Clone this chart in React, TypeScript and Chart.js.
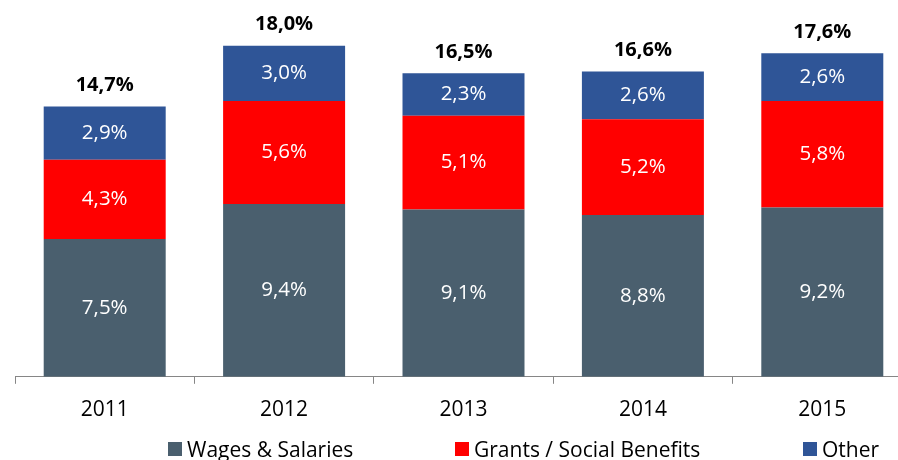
import React, { useEffect, useRef } from "react";
import { Chart, registerables } from "chart.js";

Chart.register(...registerables);

const categories = ["2011", "2012", "2013", "2014", "2015"];
const wages = [7.5, 9.4, 9.1, 8.8, 9.2];
const grants = [4.3, 5.6, 5.1, 5.2, 5.8];
const other = [2.9, 3.0, 2.3, 2.6, 2.6];
const totals = [14.7, 18.0, 16.5, 16.6, 17.6];
const seriesNames = ["Wages & Salaries", "Grants / Social Benefits", "Other"];
const seriesColors = ["#4A5F6E", "#FF0000", "#2F5597"];

const FONT = "'Open Sans', 'Noto Sans', sans-serif";
const fmt = (v: number) => v.toFixed(1).replace(".", ",") + "%";

const labelPlugin = {
  id: "labels",
  afterDatasetsDraw(chart: any) {
    const ctx = chart.ctx;
    ctx.save();
    ctx.textAlign = "center";
    ctx.textBaseline = "middle";
    chart.data.datasets.forEach((ds: any, di: number) => {
      const meta = chart.getDatasetMeta(di);
      meta.data.forEach((bar: any, i: number) => {
        const cy = (bar.y + bar.base) / 2;
        ctx.fillStyle = "#FFFFFF";
        ctx.font = `20.5px ${FONT}`;
        ctx.fillText(fmt(ds.data[i]), bar.x, cy);
      });
    });
    const last = chart.getDatasetMeta(chart.data.datasets.length - 1);
    last.data.forEach((bar: any, i: number) => {
      ctx.fillStyle = "#000000";
      ctx.font = `bold 20px ${FONT}`;
      ctx.fillText(fmt(totals[i]), bar.x, bar.y - 21);
    });
    ctx.restore();
  },
};

export default function App() {
  const ref = useRef<HTMLCanvasElement>(null);
  useEffect(() => {
    if (!ref.current) return;
    const chart = new Chart(ref.current, {
      type: "bar",
      data: {
        labels: categories,
        datasets: [wages, grants, other].map((d, i) => ({
          label: seriesNames[i],
          data: d,
          backgroundColor: seriesColors[i],
          barPercentage: 0.68,
          categoryPercentage: 1,
        })),
      },
      options: {
        responsive: false,
        animation: false,
        layout: { padding: { left: 15, right: 0, top: 9, bottom: 23 } },
        plugins: { legend: { display: false }, tooltip: { enabled: false } },
        scales: {
          x: {
            stacked: true,
            border: { color: "#868686", width: 1 },
            grid: {
              drawOnChartArea: false,
              offset: true,
              tickLength: 7,
              color: "#868686",
            },
            ticks: { color: "#000000", font: { family: FONT, size: 21 }, padding: 14 },
          },
          y: { stacked: true, display: false, min: 0, max: 20 },
        },
      },
      plugins: [labelPlugin],
    });
    return () => chart.destroy();
  }, []);

  const legendItems = [
    { x: 168, name: seriesNames[0], color: seriesColors[0] },
    { x: 455, name: seriesNames[1], color: seriesColors[1] },
    { x: 803, name: seriesNames[2], color: seriesColors[2] },
  ];

  return (
    <div
      style={{
        position: "fixed",
        left: 0,
        top: 0,
        width: 898,
        height: 460,
        overflow: "hidden",
        background: "#fff",
      }}
    >
      <canvas ref={ref} width={912} height={460} style={{ display: "block" }} />
      {legendItems.map((it) => (
        <div
          key={it.name}
          style={{
            position: "absolute",
            left: it.x,
            top: 437,
            height: 24,
            display: "flex",
            alignItems: "center",
            fontFamily: FONT,
            fontSize: 21,
            color: "#000",
            whiteSpace: "nowrap",
          }}
        >
          <span
            style={{
              display: "inline-block",
              width: 14,
              height: 14,
              background: it.color,
              marginRight: 5,
            }}
          />
          {it.name}
        </div>
      ))}
    </div>
  );
}
